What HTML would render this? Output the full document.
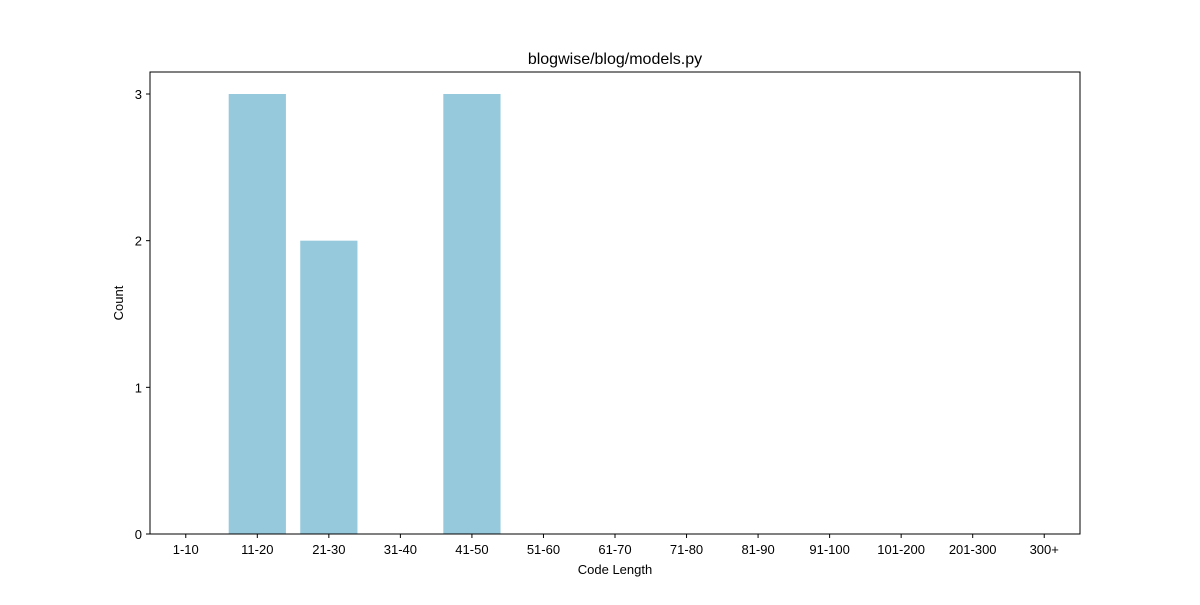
<!DOCTYPE html>
<html><head><meta charset="utf-8"><style>
body{margin:0;background:#fff;font-family:"Liberation Sans","DejaVu Sans",sans-serif;}
</style></head><body>
<svg id="chart" width="1200" height="600" xmlns="http://www.w3.org/2000/svg">
<rect width="1200" height="600" fill="#fff"/>
<text x="615" y="64" text-anchor="middle" font-size="16" fill="#000">blogwise/blog/models.py</text>
<g id="bars"></g>
<g id="xt"></g>
<g id="yt"></g>
<rect x="150" y="72" width="930" height="462" fill="none" stroke="#000" stroke-width="1"/>
<text x="615" y="574" text-anchor="middle" font-size="13">Code Length</text>
<text x="0" y="0" transform="translate(123,303) rotate(-90)" text-anchor="middle" font-size="13">Count</text>
</svg>
<script>
const categories=["1-10","11-20","21-30","31-40","41-50","51-60","61-70","71-80","81-90","91-100","101-200","201-300","300+"];
const counts=[0,3,2,0,3,0,0,0,0,0,0,0,0];
const yTicks=[0,1,2,3];
const L=150,R=1080,T=72,B=534,yMax=3.15;
const NS="http://www.w3.org/2000/svg";
const step=(R-L)/categories.length;
const xs=i=>L+(i+0.5)*step;
const ys=v=>B-(v/yMax)*(B-T);
function mk(t,a){const e=document.createElementNS(NS,t);for(const k in a)e.setAttribute(k,a[k]);return e;}
const bars=document.getElementById('bars'),xt=document.getElementById('xt'),yt=document.getElementById('yt');
categories.forEach((c,i)=>{
  const w=step*0.8;
  const r=mk('rect',{x:xs(i)-w/2,y:ys(counts[i]),width:w,height:B-ys(counts[i]),fill:'#96c9dc'});
  
  
  bars.appendChild(r);
  const tk=mk('line',{x1:xs(i),x2:xs(i),y1:B,y2:B+4,stroke:'#000'});
  
  
  xt.appendChild(tk);
  const tx=mk('text',{x:xs(i),y:B+20,'text-anchor':'middle','font-size':'13'});
  tx.textContent=c;
  
  
  xt.appendChild(tx);
});
yTicks.forEach(v=>{
  const tk=mk('line',{x1:L-4,x2:L,y1:ys(v),y2:ys(v),stroke:'#000'});
  
  
  yt.appendChild(tk);
  const tx=mk('text',{x:L-8,y:ys(v)+5,'text-anchor':'end','font-size':'13'});
  tx.textContent=v;
  
  
  yt.appendChild(tx);
});
</script>
</body></html>
